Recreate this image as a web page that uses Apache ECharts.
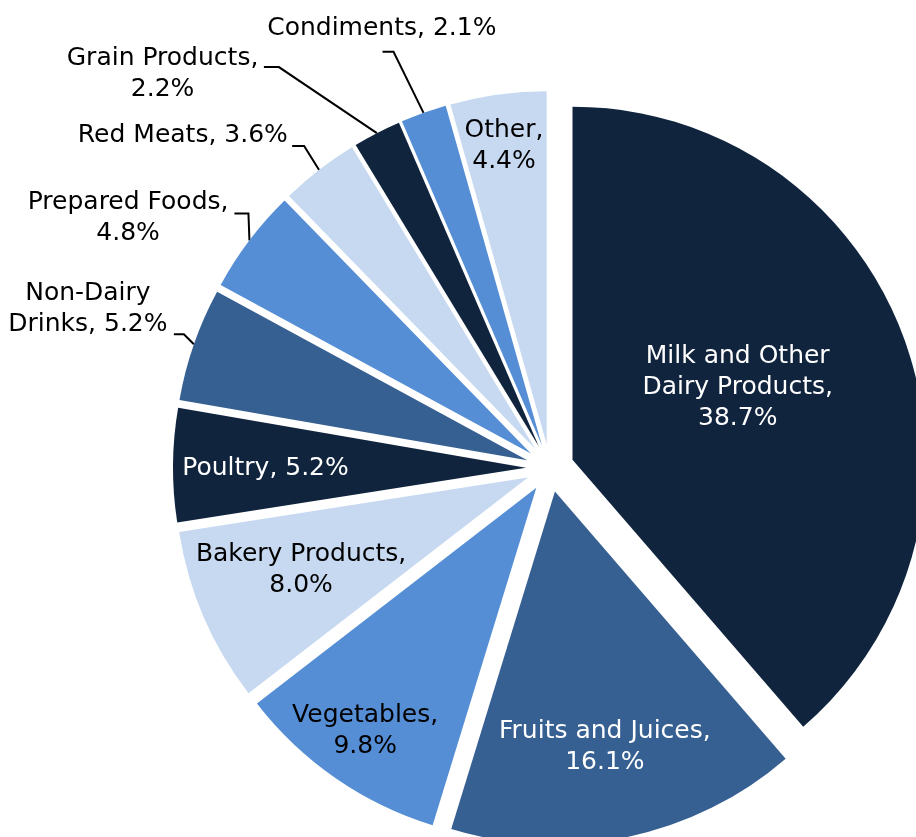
<!DOCTYPE html>
<html>
<head>
<meta charset="utf-8">
<script src="https://cdn.jsdelivr.net/npm/echarts@6/dist/echarts.min.js"></script>
<style>
  html, body { margin: 0; padding: 0; background: #ffffff; }
  #chart { width: 916px; height: 837px; }
</style>
</head>
<body>
<div id="chart"></div>
<script>
// 数据：各品类占比（%），顺时针从 12 点方向开始
const categories = [
  'Milk and Other Dairy Products', 'Fruits and Juices', 'Vegetables', 'Bakery Products',
  'Poultry', 'Non-Dairy Drinks', 'Prepared Foods', 'Red Meats', 'Grain Products',
  'Condiments', 'Other'
];
const shares = [38.7, 16.1, 9.8, 8.0, 5.2, 5.2, 4.8, 3.6, 2.2, 2.1, 4.4];

const DARK = '#10243e';
const MEDIUM = '#376092';
const BRIGHT = '#558ed5';
const LIGHT = '#c6d9f1';
const sliceColors = [DARK, MEDIUM, BRIGHT, LIGHT, DARK, MEDIUM, BRIGHT, LIGHT, DARK, BRIGHT, LIGHT];

// 标签文字换行
const nameBreaks = {
  'Milk and Other Dairy Products': 'Milk and Other\nDairy Products',
  'Non-Dairy Drinks': 'Non-Dairy\nDrinks'
};
const sameLineValue = ['Poultry', 'Non-Dairy Drinks', 'Red Meats', 'Condiments'];

// 外部标签的引导线长度 [length, length2]
const outsideLeaders = {
  'Non-Dairy Drinks': [12, 8],
  'Prepared Foods': [15, 6],
  'Red Meats': [25, 8],
  'Grain Products': [60, 86],
  'Condiments': [60, 10]
};

// 引导线折线形状：相对扇区边缘点的 [拐点, 终点]
const leaderShape = {
  'Non-Dairy Drinks': [[-10, -10], [-20, -10]],
  'Prepared Foods': [[-1, -27], [-15, -27]],
  'Red Meats': [[-15, -24], [-27, -24]],
  'Grain Products': [[-98, -66], [-113, -66]],
  'Condiments': [[-30, -61], [-41, -61]]
};

// 标签微调 [dx, dy]
const labelNudge = {
  'Milk and Other Dairy Products': [-3, -10],
  'Fruits and Juices': [13, 80],
  'Vegetables': [-69, 96],
  'Bakery Products': [-62, 22],
  'Poultry': [-81, 2],
  'Other': [-18, -120],
  'Non-Dairy Drinks': [-2, -31],
  'Prepared Foods': [2, -13],
  'Red Meats': [-3, -15],
  'Grain Products': [0, -6],
  'Condiments': [108, -28]
};

const FONT = 'DejaVu Sans';

function labelText(p) {
  const name = nameBreaks[p.name] || p.name;
  const sep = sameLineValue.includes(p.name) ? ' ' : '\n';
  const text = name + ',' + sep + p.value.toFixed(1) + '%';
  return text.split('\n').map((line) => '{c|' + line + '}').join('\n');
}

function layoutLabel(params) {
  const name = categories[params.dataIndex];
  const nudge = labelNudge[name];
  const result = nudge ? { dx: nudge[0], dy: nudge[1] } : {};
  const shape = leaderShape[name];
  const pts = params.labelLinePoints;
  if (shape && pts && pts.length) {
    const start = pts[0];
    result.labelLinePoints = [
      [start[0], start[1]],
      [start[0] + shape[0][0], start[1] + shape[0][1]],
      [start[0] + shape[1][0], start[1] + shape[1][1]]
    ];
  }
  return result;
}

const chart = echarts.init(document.getElementById('chart'), null, { renderer: 'canvas' });

chart.setOption({
  animation: false,
  backgroundColor: '#ffffff',
  series: [
    {
      type: 'pie',
      center: [550, 468],
      radius: 353,
      startAngle: 90,
      clockwise: true,
      selectedMode: 'multiple',
      selectedOffset: 24,
      avoidLabelOverlap: false,
      emphasis: { disabled: true },
      label: {
        fontFamily: FONT,
        fontSize: 25,
        lineHeight: 31,
        distanceToLabelLine: 5,
        formatter: labelText,
        rich: {
          c: { align: 'center', fontFamily: FONT, fontSize: 25, lineHeight: 31 }
        }
      },
      labelLine: {
        lineStyle: { color: '#000000', width: 2 }
      },
      labelLayout: layoutLabel,
      data: categories.map((name, i) => {
        const leader = outsideLeaders[name];
        const darkSlice = sliceColors[i] === DARK || sliceColors[i] === MEDIUM;
        return {
          name: name,
          value: shares[i],
          selected: true,
          itemStyle: { color: sliceColors[i] },
          label: {
            position: leader ? 'outside' : 'inside',
            color: leader ? '#000000' : (darkSlice ? '#ffffff' : '#000000')
          },
          labelLine: leader
            ? { show: true, length: leader[0], length2: leader[1] }
            : { show: false }
        };
      })
    }
  ]
});
</script>
</body>
</html>
